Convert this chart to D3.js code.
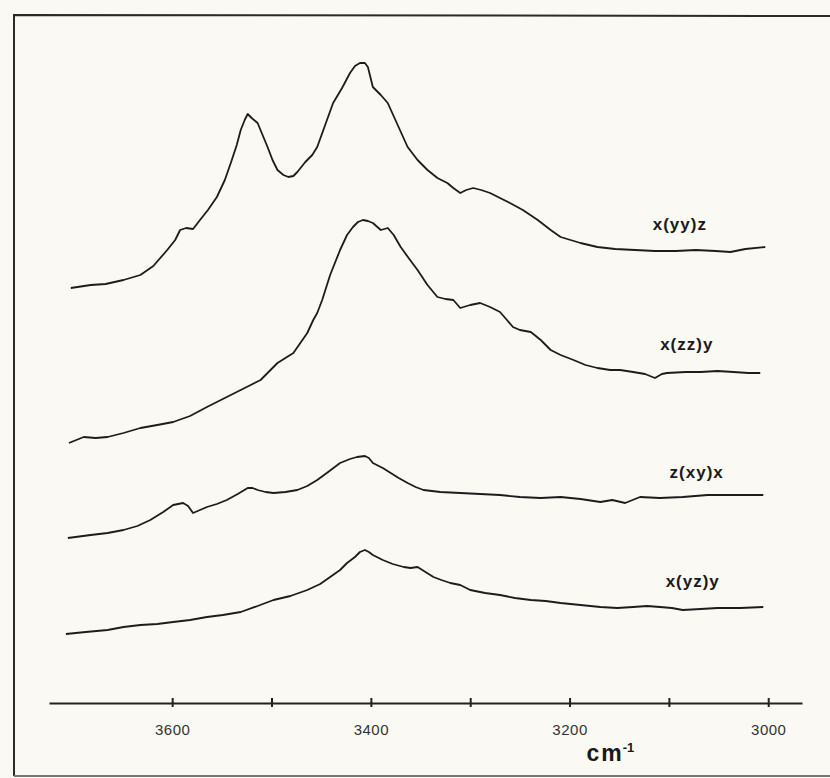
<!DOCTYPE html>
<html>
<head>
<meta charset="utf-8">
<script src="https://cdn.jsdelivr.net/npm/d3@7"></script>
<style>
  html, body { margin: 0; padding: 0; background: #fbf9f3; }
  svg { display: block; }
</style>
</head>
<body>
<svg id="chart" width="830" height="778"></svg>
<script>
// Raman spectra, wavenumber in cm-1, intensity in arbitrary units (traces offset)
const yyWave = [3702,3682,3667,3649,3632,3619,3605,3597,3592,3586,3579,3572,3564,3555,3547,3541,3535,3531,3527,3524,3520,3514,3509,3504,3499,3494,3488,3483,3478,3474,3466,3459,3454,3446,3438,3429,3421,3416,3411,3406,3403,3398,3390,3383,3373,3363,3353,3343,3333,3323,3317,3310,3304,3297,3289,3280,3270,3260,3247,3232,3219,3209,3199,3189,3172,3154,3134,3114,3093,3073,3053,3038,3023,3003];
const yyInt = [83.0,83.6,83.8,84.6,85.6,87.4,90.6,92.6,94.6,95.0,94.8,96.6,98.6,101.2,104.6,108.0,111.6,114.6,116.6,117.8,117.0,116.0,113.6,111.2,108.6,106.6,105.6,105.2,105.4,106.2,108.2,109.6,111.2,115.6,120.0,123.0,126.0,127.4,128.0,128.0,127.2,123.2,121.6,120.0,115.6,111.2,108.6,106.6,105.0,104.0,103.0,102.0,102.6,103.0,102.6,102.0,101.0,100.0,98.6,96.6,94.6,93.2,92.6,92.0,91.2,90.8,90.6,90.4,90.4,90.6,90.4,90.2,90.8,91.2];

const zzWave = [3704,3689,3677,3665,3649,3632,3615,3599,3582,3565,3549,3531,3521,3511,3501,3494,3486,3478,3471,3464,3458,3454,3449,3441,3431,3424,3418,3413,3408,3403,3398,3390,3383,3377,3370,3362,3353,3343,3333,3325,3317,3310,3300,3290,3280,3270,3263,3257,3250,3239,3229,3219,3209,3196,3184,3172,3159,3149,3136,3124,3114,3107,3102,3083,3068,3051,3035,3020,3008];
const zzInt = [52.0,53.2,53.0,53.2,54.0,55.0,55.6,56.2,57.4,59.2,60.8,62.6,63.6,64.6,66.6,68.0,69.0,70.0,72.0,74.0,76.6,78.0,80.6,85.6,90.6,93.6,95.2,96.2,96.6,96.4,96.0,94.6,95.0,93.6,91.2,89.0,86.6,83.6,81.2,80.8,80.6,79.0,79.6,80.0,79.2,78.2,76.6,75.2,74.6,74.2,72.6,70.6,69.6,68.6,67.6,67.0,66.6,66.6,66.2,65.8,65.0,65.8,66.0,66.2,66.2,66.4,66.2,66.0,66.0];

const xyWave = [3705,3682,3665,3649,3635,3622,3609,3599,3589,3584,3579,3572,3565,3555,3545,3534,3524,3519,3514,3506,3498,3486,3474,3464,3454,3443,3431,3421,3414,3406,3402,3398,3388,3380,3372,3363,3355,3347,3330,3310,3290,3270,3250,3229,3209,3189,3169,3157,3144,3129,3109,3086,3061,3035,3005];
const xyInt = [33.0,33.6,34.0,34.6,35.4,36.6,38.2,39.6,40.0,39.4,38.0,38.6,39.2,39.8,40.6,41.8,43.0,43.0,42.6,42.2,42.0,42.2,42.6,43.4,44.6,46.2,48.0,48.8,49.2,49.4,49.0,48.0,47.0,46.0,45.0,44.0,43.2,42.6,42.2,42.0,41.8,41.6,41.2,41.0,41.2,40.8,40.2,40.6,40.0,41.2,41.0,41.2,41.6,41.6,41.6];

const yzWave = [3707,3687,3665,3649,3632,3615,3599,3582,3565,3549,3531,3514,3498,3481,3464,3451,3441,3431,3424,3416,3411,3406,3402,3398,3388,3378,3367,3360,3353,3345,3337,3329,3320,3310,3300,3285,3270,3255,3239,3224,3209,3189,3169,3152,3136,3122,3109,3097,3086,3068,3051,3028,3005];
const yzInt = [13.8,14.2,14.6,15.2,15.6,15.8,16.2,16.6,17.2,17.6,18.2,19.4,20.6,21.4,22.6,23.8,25.2,26.6,28.0,29.2,30.2,30.6,30.2,29.6,28.6,27.8,27.2,27.0,27.2,26.2,25.2,24.6,24.0,23.6,22.6,22.0,21.6,21.0,20.6,20.4,20.0,19.6,19.2,19.0,19.2,19.4,19.2,19.0,18.6,18.8,19.0,19.0,19.2];

// trace labels and where they sit
const traceLabels = ['x(yy)z', 'x(zz)y', 'z(xy)x', 'x(yz)y'];
const labelWave = [3089, 3082, 3072, 3076];
const labelInt = [94.6, 70.6, 45.0, 23.2];

// axis ticks
const tickValues = [3600, 3500, 3400, 3300, 3200, 3100, 3000];
const tickLabels = [3600, 3400, 3200, 3000];

const svg = d3.select('#chart');
const W = 830;

const x = d3.scaleLinear().domain([3724, 2966]).range([49, 802]);
const y = d3.scaleLinear().domain([0, 140]).range([703, 3]);

// frame of the scanned figure
svg.append('path')
    .attr('d', 'M830,16 L14,15 L14,776')
    .attr('fill', 'none')
    .attr('stroke', '#2a2a2a')
    .attr('stroke-width', 2);
svg.append('line')
    .attr('x1', 14).attr('x2', W).attr('y1', 776).attr('y2', 776)
    .attr('stroke', '#777').attr('stroke-width', 2);

// x axis
const axis = svg.append('g')
    .attr('transform', `translate(0,${y(0)})`)
    .call(d3.axisBottom(x)
        .tickValues(tickValues)
        .tickSizeInner(4)
        .tickSizeOuter(0)
        .tickFormat(d => tickLabels.includes(d) ? d : ''));
axis.select('.domain').attr('stroke', '#222').attr('stroke-width', 2.2);
axis.selectAll('.tick line')
    .attr('y1', -5).attr('y2', 4)
    .attr('stroke', '#222').attr('stroke-width', 2);
axis.selectAll('.tick text')
    .attr('y', 32).attr('dy', 0)
    .style('font-family', 'Liberation Sans, Arial, sans-serif')
    .style('font-size', '15px')
    .style('letter-spacing', '0.5px')
    .style('fill', '#333');

// unit label
const unit = svg.append('text')
    .attr('x', x(3183)).attr('y', 761)
    .style('font-family', 'Liberation Sans, Arial, sans-serif')
    .style('font-weight', '700')
    .style('font-size', '23px')
    .style('fill', '#1a1a1a');
unit.append('tspan').style('letter-spacing', '2px').text('c');
unit.append('tspan').text('m');
unit.append('tspan')
    .attr('dy', -9)
    .attr('dx', 1)
    .style('font-size', '13px')
    .text('-1');

// spectra
const traces = [
    { wave: yyWave, int: yyInt },
    { wave: zzWave, int: zzInt },
    { wave: xyWave, int: xyInt },
    { wave: yzWave, int: yzInt }
];

const line = d3.line()
    .x(d => x(d[0]))
    .y(d => y(d[1]));

traces.forEach(t => {
    svg.append('path')
        .datum(t.wave.map((w, i) => [w, t.int[i]]))
        .attr('fill', 'none')
        .attr('stroke', '#1c1c1c')
        .attr('stroke-width', 1.8)
        .attr('stroke-linejoin', 'round')
        .attr('d', line);
});

// trace labels
svg.selectAll('.trace-label')
    .data(traceLabels)
    .enter().append('text')
    .attr('class', 'trace-label')
    .attr('x', (d, i) => x(labelWave[i]))
    .attr('y', (d, i) => y(labelInt[i]))
    .attr('text-anchor', 'middle')
    .style('font-family', 'Liberation Sans, Arial, sans-serif')
    .style('font-weight', '700')
    .style('font-size', '17px')
    .style('letter-spacing', '1px')
    .style('fill', '#1a1a1a')
    .text(d => d);
</script>
</body>
</html>
